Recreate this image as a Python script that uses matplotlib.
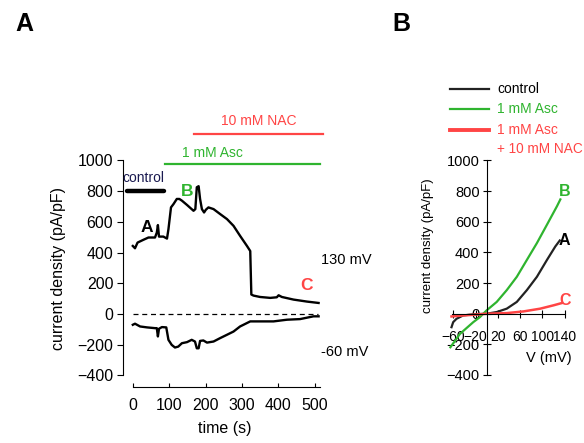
import matplotlib
matplotlib.use('Agg')
import matplotlib.pyplot as plt
import numpy as np

plt.rcParams['font.family'] = ['Liberation Sans', 'DejaVu Sans']

# panel A: current density over time at +130 mV and -60 mV
t_up = [0, 6, 13, 29, 43, 61, 66, 69, 72, 84, 94, 98, 105, 112, 121, 128, 135, 149, 167,
        172, 176, 181, 185, 190, 196, 201, 208, 222, 240, 259, 277, 295, 314, 323, 326,
        332, 350, 378, 396, 401, 410, 442, 479, 511]
i_up = [443, 428, 465, 483, 498, 498, 530, 579, 504, 504, 491, 552, 694, 716, 749, 749, 738,
        710, 672, 683, 825, 832, 749, 683, 661, 679, 694, 683, 651, 618, 574, 509, 443, 410,
        127, 120, 111, 105, 109, 122, 111, 94, 81, 72]
t_dn = [0, 6, 20, 39, 61, 66, 69, 72, 80, 92, 98, 107, 116, 125, 135, 149, 162, 171, 176,
        181, 185, 194, 204, 222, 240, 259, 277, 295, 323, 350, 387, 424, 460, 497, 511]
i_dn = [-70, -63, -81, -87, -92, -92, -146, -96, -85, -87, -168, -201, -218, -212, -190,
        -183, -168, -179, -223, -223, -175, -172, -186, -179, -157, -135, -114, -81, -48,
        -48, -48, -37, -33, -15, -15]

# panel B: I-V curves
v_ctrl = [-63, -60, -54, -42, -24, 0, 18, 36, 54, 72, 90, 108, 123, 131]
i_ctrl = [-88, -55, -33, -11, -4, 0, 11, 33, 77, 154, 241, 351, 439, 478]
v_asc = [-65, -48, -24, -12, 0, 18, 36, 54, 72, 90, 108, 126, 132]
i_asc = [-219, -132, -55, -22, 22, 77, 154, 241, 351, 461, 581, 702, 746]
v_nac = [-63, -48, -24, 0, 36, 66, 96, 120, 135]
i_nac = [-18, -13, -7, 0, 4, 15, 33, 55, 70]

GREEN = '#2fb42f'
RED = '#ff4545'

fig = plt.figure(figsize=(5.84, 4.43), dpi=100)

# ---------------- panel A ----------------
axA = fig.add_axes([123/584, 1 - 387/443, (325.5-123)/584, (387-114.3)/443])
axA.set_xlim(-27, 530)
axA.set_ylim(-475, 1300)
axA.plot(t_up, i_up, color='black', lw=1.7)
axA.plot(t_dn, i_dn, color='black', lw=1.7)
axA.plot([0, 510], [0, 0], color='black', lw=0.9, ls=(0, (4, 3)))

axA.plot([-17, 86], [800, 800], color='black', lw=3.2, solid_capstyle='round')
axA.text(30, 885, 'control', ha='center', va='center', fontsize=10, color='#1a1a50')
axA.plot([88, 515], [977, 977], color=GREEN, lw=1.6)
axA.text(220, 1048, '1 mM Asc', ha='center', va='center', fontsize=10, color=GREEN)
axA.plot([168, 523], [1172, 1172], color=RED, lw=1.6)
axA.text(347, 1256, '10 mM NAC', ha='center', va='center', fontsize=10, color=RED)

axA.text(38, 563, 'A', ha='center', va='center', fontsize=12.5, fontweight='bold', color='black')
axA.text(149, 797, 'B', ha='center', va='center', fontsize=12.5, fontweight='bold', color=GREEN)
axA.text(479, 186, 'C', ha='center', va='center', fontsize=12.5, fontweight='bold', color=RED)
axA.text(518, 352, '130 mV', ha='left', va='center', fontsize=10.5, clip_on=False)
axA.text(518, -245, '-60 mV', ha='left', va='center', fontsize=10.5, clip_on=False)

for s in ['top', 'right']:
    axA.spines[s].set_visible(False)
axA.spines['left'].set_bounds(-400, 1000)
axA.spines['bottom'].set_bounds(0, 515)
axA.set_yticks(range(-400, 1001, 200))
axA.set_xticks(range(0, 501, 100))
axA.tick_params(axis='y', direction='out', length=4, labelsize=11.5, pad=3)
axA.tick_params(axis='x', direction='in', length=3, labelsize=11.5, pad=8)
axA.set_xlabel('time (s)', fontsize=11.5, labelpad=6)
fig.text(58/584, 1 - 269/443, 'current density (pA/pF)', rotation=90,
         ha='center', va='center', fontsize=11.5)

# ---------------- panel B ----------------
axB = fig.add_axes([447.6/584, 1 - 375/443, (570.4-447.6)/584, (375-160.5)/443])
axB.set_xlim(-70, 150)
axB.set_ylim(-400, 1000)
axB.plot(v_ctrl, i_ctrl, color='#222222', lw=1.6)
axB.plot(v_asc, i_asc, color=GREEN, lw=1.6)
axB.plot(v_nac, i_nac, color=RED, lw=1.8)
axB.text(140, 796, 'B', ha='center', va='center', fontsize=11.5, fontweight='bold', color=GREEN)
axB.text(139, 480, 'A', ha='center', va='center', fontsize=11.5, fontweight='bold', color='black')
axB.text(140, 88, 'C', ha='center', va='center', fontsize=11.5, fontweight='bold', color=RED)

for s in ['top', 'right']:
    axB.spines[s].set_visible(False)
axB.spines['left'].set_position(('data', 0))
axB.spines['bottom'].set_position(('data', 0))
axB.spines['left'].set_bounds(-400, 1000)
axB.spines['bottom'].set_bounds(-62, 140)
axB.set_yticks(range(-400, 1001, 200))
axB.set_xticks([-60, -20, 20, 60, 100, 140])
axB.tick_params(axis='both', direction='inout', length=6, labelsize=10.5)
axB.tick_params(axis='y', pad=2)
axB.tick_params(axis='x', pad=9, labelsize=10)
axB.text(152, -290, 'V (mV)', ha='right', va='center', fontsize=10.5, clip_on=False)
fig.text(428/584, 1 - 246/443, 'current density (pA/pF)', rotation=90,
         ha='center', va='center', fontsize=9.5)

# legend for panel B
leg_rows = [(89, '#222222', 'control', 'black', 1.6),
            (109, GREEN, '1 mM Asc', GREEN, 1.6),
            (130, RED, '1 mM Asc', RED, 2.8)]
for y, lc, lab, tc, lw in leg_rows:
    fig.add_artist(plt.Line2D([450/584, 489/584], [1 - y/443, 1 - y/443], color=lc, lw=lw))
    fig.text(497/584, 1 - y/443, lab, ha='left', va='center', fontsize=10, color=tc)
fig.text(497/584, 1 - 149/443, '+ 10 mM NAC', ha='left', va='center', fontsize=9.8, color=RED)

fig.text(15/584, 1 - 24/443, 'A', fontsize=18, fontweight='bold', va='center', ha='left')
fig.text(392/584, 1 - 24/443, 'B', fontsize=18, fontweight='bold', va='center', ha='left')

fig.savefig('out.png', dpi=100)
